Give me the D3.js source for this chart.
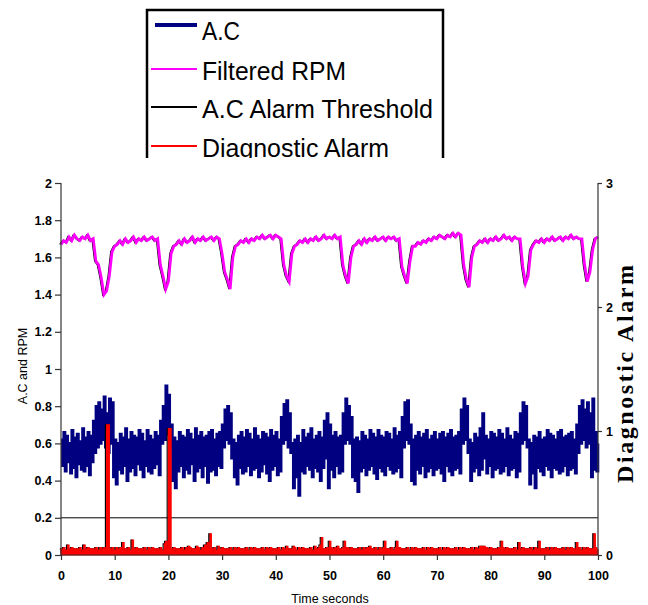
<!DOCTYPE html>
<html><head><meta charset="utf-8">
<script src="https://cdn.jsdelivr.net/npm/d3@7/dist/d3.min.js"></script>
<style>body{margin:0;background:#fff}svg{display:block}</style>
</head><body>
<script>
// ---- DATA ----
const seriesNames = ["A.C", "Filtered RPM", "A.C Alarm Threshold", "Diagnostic Alarm"];
const xTicks = [0,10,20,30,40,50,60,70,80,90,100];
const yLeftTicks = [0,0.2,0.4,0.6,0.8,1,1.2,1.4,1.6,1.8,2];
const yRightTicks = [0,1,2,3];
const threshold = 0.2;
// A.C sampled every 0.25 s (0..100 s)
const acValues = [
.62,.48,.66,.45, .64,.50,.60,.44, .67,.47,.63,.42, .65,.49,.61,.46, .68,.45,.63,.48,
.66,.43,.64,.50, .72,.55,.80,.58, .82,.60,.78,.62, .85,.58,.76,.55, .84,.60,.82,.42,
.62,.38,.60,.46, .65,.44,.63,.48, .68,.40,.62,.45, .66,.47,.64,.43, .63,.49,.67,.46,
.65,.42,.61,.48, .67,.45,.64,.44, .62,.47,.66,.49, .64,.43,.72,.60, .80,.62,.91,.65,
.86,.58,.70,.40, .63,.36,.61,.45, .66,.48,.64,.42, .63,.46,.67,.44, .65,.49,.62,.40,
.68,.45,.64,.47, .66,.42,.63,.48, .64,.39,.66,.45, .67,.46,.62,.43, .65,.48,.66,.47,
.70,.58,.78,.62, .80,.60,.76,.52, .62,.42,.60,.38, .64,.47,.66,.44, .63,.45,.67,.48,
.65,.43,.62,.46, .68,.47,.64,.42, .62,.45,.66,.49, .65,.44,.63,.40, .67,.46,.64,.48,
.66,.43,.62,.45, .74,.60,.81,.62, .83,.58,.76,.55, .60,.36,.62,.42, .64,.32,.60,.45,
.67,.44,.63,.48, .65,.46,.68,.42, .62,.47,.64,.45, .66,.40,.63,.47, .72,.52,.76,.36,
.70,.46,.64,.42, .66,.48,.63,.44, .64,.45,.76,.60, .84,.62,.80,.60, .74,.42,.62,.40,
.63,.34,.61,.45, .66,.47,.64,.43, .62,.46,.67,.48, .65,.44,.63,.41, .67,.47,.64,.45,
.63,.43,.66,.48, .65,.46,.62,.44, .68,.45,.64,.47, .66,.42,.74,.58, .82,.62,.83,.60,
.70,.40,.62,.38, .64,.46,.66,.44, .63,.48,.65,.42, .67,.45,.62,.47, .64,.43,.66,.46,
.62,.47,.65,.44, .66,.40,.63,.48, .65,.45,.67,.43, .63,.46,.64,.47, .66,.44,.78,.60,
.84,.62,.80,.55, .62,.40,.60,.45, .65,.47,.63,.43, .68,.46,.76,.52, .64,.44,.62,.48,
.66,.42,.65,.46, .63,.47,.67,.44, .65,.45,.62,.48, .68,.43,.64,.46, .62,.47,.66,.42,
.65,.45,.76,.60, .82,.62,.80,.58, .62,.38,.60,.44, .64,.36,.63,.47, .66,.45,.62,.43,
.63,.48,.67,.46, .65,.42,.64,.47, .62,.46,.66,.44, .67,.45,.63,.48, .64,.43,.65,.46,
.66,.47,.62,.44, .70,.55,.80,.60, .83,.62,.78,.58, .82,.60,.76,.42, .84,.46,.66,.45,
.60];
// Filtered RPM sampled every 0.5 s (0..100 s)
const rpmValues = [
1.67,1.69,1.68,1.71,1.69,1.72,1.70,1.69,1.71,1.70,1.72,1.69,1.70,
1.58,1.56,1.49,1.40,1.42,1.50,1.63,
1.66,
1.67,1.69,1.67,1.70,1.68,1.69,1.71,1.68,1.70,1.69,1.71,1.69,1.70,1.71,1.69,
1.70,1.56,1.50,1.43,1.47,1.62,1.66,
1.67,1.69,1.67,1.70,1.68,1.69,1.71,1.68,1.70,1.69,1.71,1.69,1.70,1.71,1.69,1.71,1.70,
1.62,1.52,1.48,1.43,1.60,1.66,
1.67,1.69,1.68,1.70,1.68,1.70,1.69,1.71,1.70,1.72,1.70,1.71,1.72,1.70,1.72,1.71,1.70,
1.56,1.50,1.47,1.62,1.66,
1.67,1.69,1.68,1.70,1.68,1.70,1.69,1.71,1.69,1.70,1.72,1.70,1.71,1.70,1.72,1.70,1.71,
1.56,1.50,1.46,1.60,1.66,
1.67,1.69,1.67,1.70,1.68,1.70,1.69,1.71,1.69,1.70,1.71,1.69,1.71,1.70,1.71,1.69,1.70,
1.55,1.50,1.46,1.58,1.66,
1.66,1.68,1.67,1.69,1.68,1.70,1.69,1.71,1.70,1.72,1.71,1.70,1.72,1.71,1.73,1.71,1.73,1.72,
1.56,1.48,1.44,1.60,1.66,
1.67,1.69,1.68,1.70,1.68,1.70,1.69,1.71,1.69,1.70,1.72,1.70,1.71,1.69,1.71,1.70,1.70,
1.55,1.46,1.50,1.64,
1.67,1.69,1.68,1.70,1.68,1.70,1.69,1.71,1.69,1.70,1.71,1.69,1.71,1.70,1.72,1.70,1.71,1.70,1.70,
1.56,1.47,1.52,1.64,
1.70,1.71];
// Diagnostic Alarm (right axis) sampled every 0.25 s (0..100 s)
const alarmValues = [
.05,.02,.06,.03, .04,.08,.03,.05, .06,.02,.05,.04, .05,.03,.06,.02, .04,.08,.03,.05,
.06,.02,.05,.04, .05,.03,.06,.02, .04,.06,.03,.05, .06,.04,1.05,1.05, .05,.03,.06,.02,
.04,.06,.03,.05, .06,.02,.10,.04, .05,.03,.06,.02, .04,.12,.03,.05, .06,.02,.05,.04,
.05,.03,.06,.02, .04,.06,.03,.05, .06,.02,.05,.04, .05,.03,.06,.02, .04,.09,.11,.05,
1.02,1.02,.05,.03, .06,.02,.05,.04, .05,.03,.06,.02, .04,.06,.03,.07, .06,.02,.05,.04,
.05,.07,.06,.02, .04,.06,.03,.08, .06,.10,.05,.17, .05,.03,.06,.02, .04,.07,.03,.05,
.06,.02,.05,.04, .05,.03,.06,.02, .04,.06,.03,.05, .06,.02,.05,.04, .05,.03,.06,.02,
.04,.06,.03,.05, .06,.02,.05,.04, .05,.03,.06,.02, .04,.06,.03,.05, .06,.02,.05,.04,
.05,.03,.06,.02, .04,.06,.03,.05, .07,.02,.05,.04, .05,.07,.06,.02, .04,.06,.03,.05,
.06,.02,.05,.04, .05,.03,.06,.02, .04,.07,.03,.05, .06,.08,.14,.04, .05,.03,.06,.02,
.11,.06,.03,.05, .06,.02,.07,.04, .05,.03,.06,.11, .04,.06,.03,.05, .06,.02,.05,.04,
.05,.03,.06,.02, .04,.06,.03,.05, .06,.02,.07,.04, .05,.03,.06,.02, .04,.06,.03,.05,
.06,.11,.05,.04, .05,.03,.06,.02, .04,.06,.11,.05, .06,.02,.05,.04, .05,.03,.06,.02,
.04,.06,.03,.05, .06,.02,.05,.04, .05,.03,.06,.02, .04,.06,.03,.05, .06,.02,.05,.04,
.05,.03,.06,.02, .04,.06,.03,.05, .06,.02,.05,.04, .05,.03,.06,.02, .04,.06,.03,.05,
.06,.02,.05,.04, .05,.03,.06,.02, .04,.06,.03,.05, .07,.07,.06,.07, .04,.06,.03,.05,
.06,.02,.05,.04, .05,.03,.06,.02, .11,.06,.03,.05, .06,.02,.05,.04, .05,.03,.06,.02,
.04,.10,.03,.05, .06,.02,.05,.04, .05,.03,.06,.02, .04,.06,.03,.05, .11,.02,.05,.04,
.05,.03,.06,.02, .04,.06,.03,.05, .06,.02,.05,.04, .05,.03,.06,.02, .04,.06,.03,.05,
.06,.02,.05,.04, .10,.03,.06,.02, .04,.06,.03,.05, .06,.02,.05,.04, .05,.17,.06,.03,
.05];

// ---- CHART ----
const W = 648, H = 605;
const FONT = "'Liberation Sans Narrow', 'Liberation Sans', Arial, sans-serif";
const svg = d3.select("body").append("svg").attr("width", W).attr("height", H)
  .style("font-family", "'Liberation Sans', Arial, sans-serif");

const x = d3.scaleLinear().domain([0, 100]).range([61, 598]);
const y = d3.scaleLinear().domain([0, 2]).range([555, 183]);
const y2 = d3.scaleLinear().domain([0, 3]).range([555, 183]);

const toPts = vals => vals.map((v, i) => ({t: i * 100 / (vals.length - 1), v}));
const acPts = toPts(acValues), rpmPts = toPts(rpmValues), alPts = toPts(alarmValues);

const plot = svg.append("g");
// A.C
plot.append("path").datum(acPts)
  .attr("d", d3.line().x(d => x(d.t)).y(d => y(d.v)).curve(d3.curveStepAfter))
  .attr("fill", "none").attr("stroke", "#000080").attr("stroke-width", 2.6);
// Filtered RPM (dark edge + magenta)
const rpmLine = d3.line().x(d => x(d.t)).y(d => y(d.v));
plot.append("path").datum(rpmPts).attr("d", rpmLine)
  .attr("transform", "translate(-1.2,0)")
  .attr("fill", "none").attr("stroke", "#000").attr("stroke-width", 1.4);
plot.append("path").datum(rpmPts).attr("d", rpmLine)
  .attr("fill", "none").attr("stroke", "#ff00ff").attr("stroke-width", 2.8);
// Threshold
plot.append("line").attr("x1", x(0)).attr("x2", x(100))
  .attr("y1", y(threshold)).attr("y2", y(threshold))
  .attr("stroke", "#000").attr("stroke-width", 1);
// Diagnostic Alarm
const alLine = d3.line().x(d => x(d.t)).y(d => y2(d.v)).curve(d3.curveStepAfter);
const alArea = d3.area().x(d => x(d.t)).y0(y2(0)).y1(d => y2(d.v)).curve(d3.curveStepAfter);
plot.append("path").datum(alPts).attr("d", alLine)
  .attr("transform", "translate(-1.2,0)")
  .attr("fill", "none").attr("stroke", "#000").attr("stroke-width", 1.2);
plot.append("path").datum(alPts).attr("d", alArea)
  .attr("fill", "#ff0000").attr("stroke", "#ff0000").attr("stroke-width", 1.2);

// Axes
const fmt = d => String(d);
const axL = svg.append("g").attr("transform", `translate(${x(0)},0)`)
  .call(d3.axisLeft(y).tickValues(yLeftTicks).tickFormat(fmt).tickSize(6).tickPadding(3));
const axR = svg.append("g").attr("transform", `translate(${x(100)},0)`)
  .call(d3.axisRight(y2).tickValues(yRightTicks).tickFormat(fmt).tickSize(4).tickPadding(4));
const axB = svg.append("g").attr("transform", `translate(0,${y(0)})`)
  .call(d3.axisBottom(x).tickValues(xTicks).tickFormat(fmt).tickSize(5).tickPadding(11));
[axL, axR, axB].forEach(g => {
  g.select(".domain").attr("stroke", "#333").attr("stroke-width", 1.2);
  g.selectAll(".tick line").attr("stroke", "#333").attr("stroke-width", 1.2);
  g.selectAll("text").attr("font-size", 12.5).attr("fill", "#000").attr("font-weight", "bold")
    .attr("font-family", FONT);
});
axL.select(".domain").attr("d", `M0,${y(0)}V${y(2)}`);
axR.select(".domain").attr("d", `M0,${y2(0)}V${y2(3)}`);
axB.select(".domain").attr("d", `M${x(0)},0H${x(100)}`);

// Axis titles
svg.append("text").attr("transform", "translate(27,366) rotate(-90)")
  .attr("text-anchor", "middle").attr("font-size", 12.5).attr("font-family", FONT)
  .text("A.C and RPM");
svg.append("text").attr("x", 330).attr("y", 603)
  .attr("text-anchor", "middle").attr("font-size", 12.5).attr("font-family", FONT)
  .text("Time seconds");
svg.append("text").attr("transform", "translate(633,374) rotate(-90)")
  .attr("text-anchor", "middle").attr("font-size", 24).attr("font-weight", "bold")
  .attr("font-family", "'Liberation Serif', 'Times New Roman', serif")
  .attr("textLength", 218).attr("lengthAdjust", "spacing")
  .text("Diagnostic Alarm");

// Legend
svg.append("defs").append("clipPath").attr("id", "legclip")
  .append("rect").attr("x", 0).attr("y", 0).attr("width", W).attr("height", 158);
const leg = svg.append("g").attr("clip-path", "url(#legclip)");
leg.append("path").attr("d", "M147,160V10H443V160")
  .attr("fill", "none").attr("stroke", "#000").attr("stroke-width", 2.5);
const legItems = [
  {name: seriesNames[0], color: "#000080", w: 4, ly: 25, ty: 40, x1: 155, len: 38},
  {name: seriesNames[1], color: "#ff00ff", w: 2, ly: 69, ty: 80, x1: 151, len: 144},
  {name: seriesNames[2], color: "#000000", w: 2, ly: 107, ty: 118, x1: 151, len: 231},
  {name: seriesNames[3], color: "#ff0000", w: 2, ly: 146, ty: 157, x1: 151, len: 187}
];
legItems.forEach(it => {
  leg.append("line").attr("x1", it.x1).attr("x2", 197).attr("y1", it.ly).attr("y2", it.ly)
    .attr("stroke", it.color).attr("stroke-width", it.w);
  leg.append("text").attr("x", 202).attr("y", it.ty).attr("font-size", 26)
    .attr("textLength", it.len).attr("lengthAdjust", "spacingAndGlyphs")
    .attr("fill", "#000").text(it.name);
});
</script>
</body></html>
